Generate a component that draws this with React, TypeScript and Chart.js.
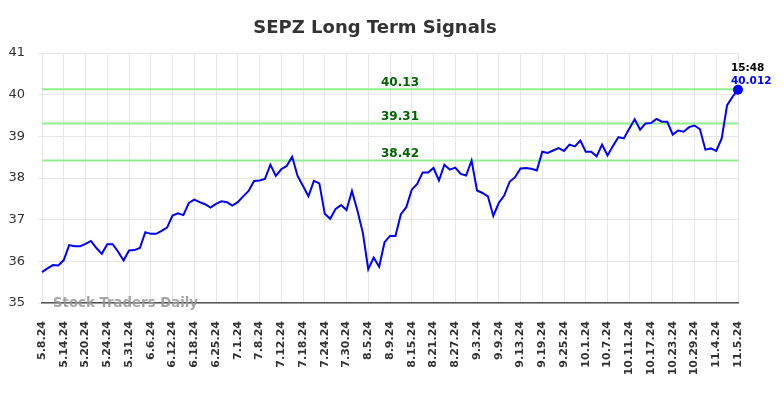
import React, { useEffect, useRef } from 'react';
import { Chart, registerables } from 'chart.js';

Chart.register(...registerables);

const dates: string[] = [
  '5.8.24', '5.9.24', '5.10.24', '5.13.24', '5.14.24', '5.15.24', '5.16.24', '5.17.24', '5.20.24', '5.21.24',
  '5.22.24', '5.23.24', '5.24.24', '5.28.24', '5.29.24', '5.30.24', '5.31.24',
  '6.3.24', '6.4.24', '6.5.24', '6.6.24', '6.7.24', '6.10.24', '6.11.24', '6.12.24', '6.13.24', '6.14.24',
  '6.17.24', '6.18.24', '6.20.24', '6.21.24', '6.24.24', '6.25.24', '6.26.24', '6.27.24', '6.28.24',
  '7.1.24', '7.2.24', '7.3.24', '7.5.24', '7.8.24', '7.9.24', '7.10.24', '7.11.24', '7.12.24', '7.15.24',
  '7.16.24', '7.17.24', '7.18.24', '7.19.24', '7.22.24', '7.23.24', '7.24.24', '7.25.24', '7.26.24', '7.29.24',
  '7.30.24', '7.31.24',
  '8.1.24', '8.2.24', '8.5.24', '8.6.24', '8.7.24', '8.8.24', '8.9.24', '8.12.24', '8.13.24', '8.14.24',
  '8.15.24', '8.16.24', '8.19.24', '8.20.24', '8.21.24', '8.22.24', '8.23.24', '8.26.24', '8.27.24', '8.28.24',
  '8.29.24', '8.30.24',
  '9.3.24', '9.4.24', '9.5.24', '9.6.24', '9.9.24', '9.10.24', '9.11.24', '9.12.24', '9.13.24', '9.16.24',
  '9.17.24', '9.18.24', '9.19.24', '9.20.24', '9.23.24', '9.24.24', '9.25.24', '9.26.24', '9.27.24', '9.30.24',
  '10.1.24', '10.2.24', '10.3.24', '10.4.24', '10.7.24', '10.8.24', '10.9.24', '10.10.24', '10.11.24', '10.14.24',
  '10.15.24', '10.16.24', '10.17.24', '10.18.24', '10.21.24', '10.22.24', '10.23.24', '10.24.24', '10.25.24', '10.28.24',
  '10.29.24', '10.30.24', '10.31.24',
  '11.1.24', '11.4.24', '11.5.24', '11.5.24', '11.5.24', '11.5.24',
];

const prices: number[] = [
  35.74, 35.83, 35.91, 35.90, 36.03, 36.39, 36.36, 36.36, 36.42, 36.49,
  36.32, 36.18, 36.41, 36.41, 36.23, 36.02, 36.26, 36.27, 36.32, 36.70,
  36.66, 36.66, 36.73, 36.81, 37.10, 37.15, 37.11, 37.40, 37.48, 37.42,
  37.37, 37.29, 37.38, 37.44, 37.42, 37.34, 37.42, 37.56, 37.69, 37.93,
  37.94, 37.98, 38.32, 38.05, 38.21, 38.29, 38.51, 38.05, 37.81, 37.56,
  37.93, 37.87, 37.14, 37.02, 37.26, 37.35, 37.23, 37.69, 37.22, 36.69,
  35.81, 36.09, 35.87, 36.46, 36.61, 36.61, 37.13, 37.30, 37.72, 37.86,
  38.13, 38.13, 38.24, 37.94, 38.32, 38.20, 38.25, 38.10, 38.06, 38.42,
  37.70, 37.64, 37.56, 37.09, 37.40, 37.58, 37.91, 38.02, 38.23, 38.24,
  38.22, 38.18, 38.63, 38.60, 38.66, 38.72, 38.65, 38.80, 38.76, 38.90,
  38.63, 38.63, 38.52, 38.80, 38.54, 38.77, 38.98, 38.95, 39.18, 39.41,
  39.16, 39.31, 39.32, 39.42, 39.35, 39.35, 39.04, 39.14, 39.11, 39.22,
  39.26, 39.17, 38.68, 38.71, 38.65, 38.95, 39.75, 39.95, 40.12,
];

const signalLevels: number[] = [40.13, 39.31, 38.42];
const signalLabels: string[] = ['40.13', '39.31', '38.42'];
const yMin = 35;
const yMax = 41;
const tickEvery = 4;
const titleText = 'SEPZ Long Term Signals';
const watermarkText = 'Stock Traders Daily';
const lastTimeText = '15:48';
const lastValueText = '40.012';

const FONT = '"DejaVu Sans", sans-serif';

export default function App() {
  const ref = useRef<HTMLCanvasElement | null>(null);

  useEffect(() => {
    document.body.style.margin = '0';
    if (!ref.current) return;
    const last = prices.length - 1;

    const textPlugin = {
      id: 'texts',
      afterDatasetsDraw(chart: any) {
        const { ctx, scales } = chart;
        const ys = scales.y;
        const xs = scales.x;
        ctx.save();
        // title
        ctx.font = `bold 18px ${FONT}`;
        ctx.fillStyle = '#333333';
        ctx.textAlign = 'center';
        ctx.textBaseline = 'alphabetic';
        ctx.fillText(titleText, 375, 32.5);
        // signal labels
        ctx.font = `bold 12px ${FONT}`;
        ctx.fillStyle = '#006400';
        signalLevels.forEach((lv, i) => {
          ctx.fillText(signalLabels[i], 400, ys.getPixelForValue(lv) - 3.5);
        });
        // watermark
        ctx.font = `bold 13.3px ${FONT}`;
        ctx.fillStyle = 'rgba(150,150,150,0.85)';
        ctx.textAlign = 'left';
        ctx.fillText(watermarkText, 53, 306.5);
        // last point annotation
        const px = xs.getPixelForValue(last);
        const py = ys.getPixelForValue(prices[last]);
        ctx.font = `bold 10.5px ${FONT}`;
        ctx.fillStyle = '#000000';
        ctx.fillText(lastTimeText, px - 7, py - 19);
        ctx.fillStyle = '#0000ff';
        ctx.fillText(lastValueText, px - 7, py - 6);
        ctx.restore();
      },
    };

    const signalDatasets = signalLevels.map((lv) => ({
      data: dates.map(() => lv),
      borderColor: '#90ee90',
      borderWidth: 2,
      pointRadius: 0,
      fill: false,
      tension: 0,
      order: 2,
    }));

    const chart = new Chart(ref.current, {
      type: 'line',
      data: {
        labels: dates,
        datasets: [
          {
            data: prices,
            borderColor: '#0000ff',
            borderWidth: 2,
            pointRadius: (c: any) => (c.dataIndex === last ? 4 : 0),
            pointBackgroundColor: '#0000ff',
            pointBorderColor: '#0000ff',
            fill: false,
            tension: 0,
            order: 1,
          },
          ...signalDatasets,
        ],
      },
      options: {
        animation: false,
        responsive: false,
        maintainAspectRatio: false,
        layout: { padding: { top: 53, right: 46, left: 0, bottom: 0 } },
        plugins: {
          legend: { display: false },
          title: { display: false },
          tooltip: { enabled: false },
        },
        scales: {
          x: {
            type: 'category',
            offset: false,
            afterFit: (s: any) => { s.height = 95; },
            afterBuildTicks: (s: any) => {
              s.ticks = s.ticks.filter((t: any) => t.value % tickEvery === 0);
            },
            ticks: {
              autoSkip: false,
              maxRotation: 90,
              minRotation: 90,
              padding: 18,
              color: '#333333',
              font: { family: FONT, size: 11, weight: 'bold' },
            },
            grid: { color: '#e6e6e6', lineWidth: 1, drawTicks: false },
            border: { color: '#555555', width: 1.5 },
          },
          y: {
            min: yMin,
            max: yMax,
            afterFit: (s: any) => { s.width = 42; },
            ticks: {
              stepSize: 1,
              padding: 13,
              color: '#333333',
              font: { family: FONT, size: 13 },
            },
            grid: { color: '#e6e6e6', lineWidth: 1, tickLength: 4 },
            border: { display: false },
          },
        },
      },
      plugins: [textPlugin],
    } as any);

    return () => chart.destroy();
  }, []);

  return (
    <div style={{ position: 'fixed', left: 0, top: 0, width: 784, height: 398, background: '#ffffff' }}>
      <canvas ref={ref} width={784} height={398} style={{ width: 784, height: 398, display: 'block' }} />
    </div>
  );
}
